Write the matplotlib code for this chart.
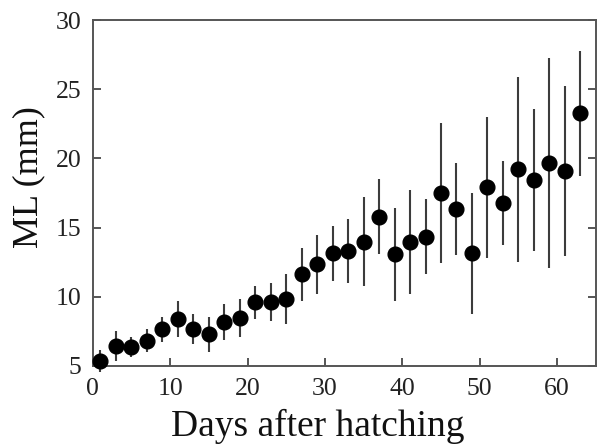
import matplotlib
matplotlib.use("Agg")
import matplotlib.pyplot as plt
import numpy as np

# Mantle length (mean ± SD) by age
days = [1, 3, 5, 7, 9, 11, 13, 15, 17, 19, 21, 23, 25, 27, 29, 31,
        33, 35, 37, 39, 41, 43, 45, 47, 49, 51, 53, 55, 57, 59, 61, 63]
ml_mean = [5.36, 6.43, 6.33, 6.81, 7.63, 8.38, 7.63, 7.27, 8.18, 8.47,
           9.59, 9.59, 9.83, 11.61, 12.34, 13.13, 13.32, 13.97, 15.78, 13.06,
           13.97, 14.33, 17.47, 16.34, 13.13, 17.90, 16.75, 19.21, 18.44, 19.64,
           19.11, 23.26]
ml_sd = [0.80, 1.08, 0.73, 0.85, 0.88, 1.33, 1.08, 1.25, 1.32, 1.38,
         1.18, 1.37, 1.80, 1.90, 2.15, 1.98, 2.33, 3.23, 2.72, 3.38,
         3.76, 2.70, 5.06, 3.32, 4.40, 5.10, 3.05, 6.70, 5.13, 7.60,
         6.15, 4.55]

x_ticks = [0, 10, 20, 30, 40, 50, 60]
y_ticks = [5, 10, 15, 20, 25, 30]

plt.rcParams["font.family"] = ["Liberation Serif", "DejaVu Serif"]

fig = plt.figure(figsize=(5.97, 4.47), dpi=100)
ax = fig.add_axes([0.1553, 0.1819, 0.8427, 0.7727])

ax.errorbar(days, ml_mean, yerr=ml_sd, fmt="o", color="black",
            ecolor="#3c3c3c", elinewidth=1.5, capsize=0,
            markersize=10.6, zorder=3, clip_on=False)

ax.set_xlim(0, 65)
ax.set_ylim(5, 30)
ax.set_xticks(x_ticks)
ax.set_yticks(y_ticks)

for s in ax.spines.values():
    s.set_linewidth(1.4)
    s.set_color("#555555")

ax.tick_params(axis="both", direction="in", length=6, width=1.4,
               color="#555555", labelsize=18.5, labelcolor="#222222")
ax.tick_params(axis="y", right=True, pad=8)
ax.tick_params(axis="x", pad=9)

ax.set_xlabel("Days after hatching", fontsize=27, color="#111111")
ax.set_ylabel("ML (mm)", fontsize=26, color="#111111")
ax.xaxis.set_label_coords(0.448, -0.125)
ax.yaxis.set_label_coords(-0.095, 0.545)

fig.savefig("out.png", dpi=100)
